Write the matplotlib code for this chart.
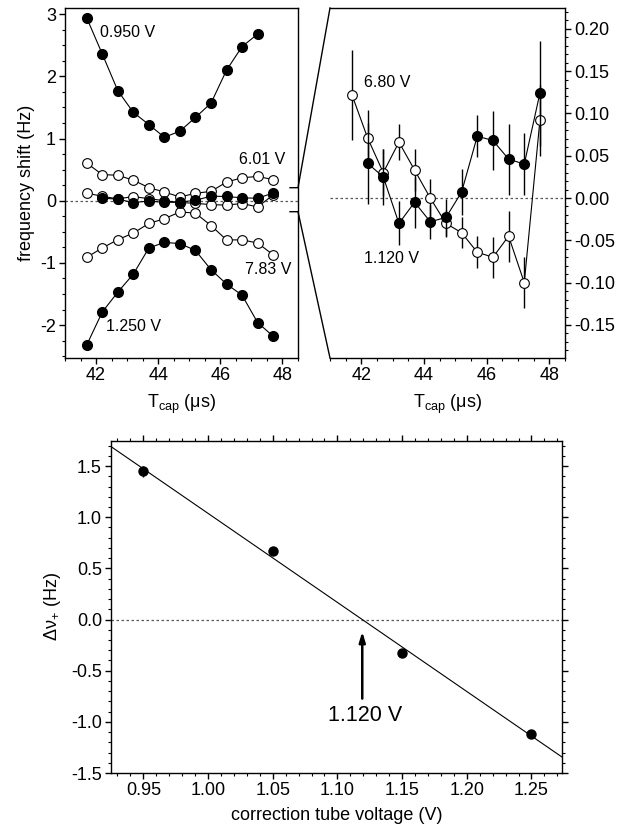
import numpy as np
import matplotlib
matplotlib.use("Agg")
import matplotlib.pyplot as plt
from matplotlib.ticker import MultipleLocator, AutoMinorLocator
from matplotlib.lines import Line2D

plt.rcParams['font.family'] = ['Liberation Sans', 'DejaVu Sans']
plt.rcParams['mathtext.fontset'] = 'custom'
plt.rcParams['mathtext.rm'] = 'Liberation Sans'
plt.rcParams['mathtext.it'] = 'Liberation Sans:italic'
plt.rcParams['axes.unicode_minus'] = False

# ---------------- data ----------------
t_cap = [41.7, 42.2, 42.7, 43.2, 43.7, 44.2, 44.7, 45.2, 45.7, 46.2, 46.7, 47.2, 47.7]

v0950 = [2.94, 2.36, 1.77, 1.42, 1.225, 1.02, 1.12, 1.34, 1.57, 2.10, 2.48, 2.68]          # t_cap[:12]
v601 = [0.605, 0.42, 0.41, 0.33, 0.21, 0.14, 0.06, 0.12, 0.15, 0.30, 0.37, 0.39, 0.34]
v783 = [-0.91, -0.76, -0.627, -0.52, -0.365, -0.29, -0.18, -0.20, -0.40, -0.63, -0.63, -0.68, -0.87]
v1250 = [-2.32, -1.79, -1.47, -1.18, -0.76, -0.67, -0.69, -0.80, -1.11, -1.34, -1.52, -1.96, -2.18]

v680 = [0.122, 0.071, 0.030, 0.066, 0.033, 0.000, -0.030, -0.041, -0.064, -0.070, -0.045, -0.100, 0.092]
v680_err = [0.053, 0.033, 0.028, 0.021, 0.025, 0.022, 0.016, 0.018, 0.019, 0.024, 0.030, 0.030, 0.042]
v1120 = [0.041, 0.025, -0.030, -0.005, -0.028, -0.023, 0.007, 0.073, 0.068, 0.046, 0.040, 0.124]   # t_cap[1:]
v1120_err = [0.048, 0.033, 0.026, 0.030, 0.020, 0.022, 0.027, 0.025, 0.035, 0.042, 0.037, 0.062]

volt = [0.95, 1.05, 1.15, 1.25]
dnu = [1.448, 0.669, -0.326, -1.122]
dnu_err = [0.05, 0.04, 0.04, 0.04]

W, H = 618, 836
fig = plt.figure(figsize=(W / 100, H / 100), dpi=100)

def px_ax(x0, y0, x1, y1):
    return fig.add_axes([x0 / W, 1 - y1 / H, (x1 - x0) / W, (y1 - y0) / H])

ax1 = px_ax(65, 8, 298, 358)
ax2 = px_ax(330, 8, 565, 358)
ax3 = px_ax(111, 441, 562, 773)

TFS = 13
AFS = 11.5
ms = 7
lw = 0.8

def style(ax):
    for s in ax.spines.values():
        s.set_linewidth(1.0)
    ax.tick_params(which='major', direction='out', length=4.5, width=1.0, labelsize=TFS, pad=2)
    ax.tick_params(which='minor', direction='out', length=2.5, width=0.8)

# ---------------- left panel ----------------
ax = ax1
ax.axhline(0, color='0.35', ls=(0, (2, 2)), lw=0.9, zorder=1)
ax.plot(t_cap[:12], v0950, '-o', color='black', mfc='black', mec='black', ms=ms, lw=lw, zorder=4)
ax.plot(t_cap, v601, '-o', color='black', mfc='white', mec='black', ms=ms, mew=0.8, lw=lw, zorder=3)
ax.plot(t_cap, v783, '-o', color='black', mfc='white', mec='black', ms=ms, mew=0.8, lw=lw, zorder=3)
ax.plot(t_cap, v1250, '-o', color='black', mfc='black', mec='black', ms=ms, lw=lw, zorder=4)
ax.plot(t_cap, v680, '-o', color='black', mfc='white', mec='black', ms=ms, mew=0.8, lw=lw, zorder=3)
ax.plot(t_cap[1:], v1120, '-o', color='black', mfc='black', mec='black', ms=ms, lw=lw, zorder=4)
ax.set_xlim(41.0, 48.5)
ax.set_ylim(-2.53, 3.10)
ax.xaxis.set_major_locator(MultipleLocator(2))
ax.xaxis.set_minor_locator(AutoMinorLocator(4))
ax.yaxis.set_major_locator(MultipleLocator(1))
ax.yaxis.set_minor_locator(AutoMinorLocator(4))
style(ax)
ax.tick_params(top=False, right=False, which='both')
ax.set_ylabel('frequency shift (Hz)', fontsize=13, labelpad=4)
ax.set_xlabel(r'T$_{\mathregular{cap}}$ (μs)', fontsize=13, labelpad=6)
ax.text(42.13, 2.71, '0.950 V', fontsize=AFS, va='center', ha='left')
ax.text(46.59, 0.66, '6.01 V', fontsize=AFS, va='center', ha='left')
ax.text(46.78, -1.11, '7.83 V', fontsize=AFS, va='center', ha='left')
ax.text(42.31, -2.03, '1.250 V', fontsize=AFS, va='center', ha='left')

# ---------------- right panel ----------------
ax = ax2
ax.axhline(0, color='0.35', ls=(0, (2, 2)), lw=0.9, zorder=1)
ax.errorbar(t_cap, v680, yerr=v680_err, fmt='-o', color='black', mfc='white', mec='black',
            ms=ms, mew=0.8, lw=lw, elinewidth=1.0, capsize=0, zorder=3)
ax.errorbar(t_cap[1:], v1120, yerr=v1120_err, fmt='-o', color='black', mfc='black', mec='black',
            ms=ms, lw=lw, elinewidth=1.0, capsize=0, zorder=4)
ax.set_xlim(41.0, 48.5)
ax.set_ylim(-0.189, 0.2245)
ax.xaxis.set_major_locator(MultipleLocator(2))
ax.xaxis.set_minor_locator(AutoMinorLocator(4))
ax.yaxis.set_major_locator(MultipleLocator(0.05))
ax.yaxis.set_minor_locator(AutoMinorLocator(5))
ax.yaxis.set_major_formatter(plt.FuncFormatter(lambda v, p: f'{v:.2f}' if abs(v) > 1e-9 else '0.00'))
ax.spines['left'].set_visible(False)
ax.yaxis.tick_right()
style(ax)
ax.tick_params(left=False, top=False, which='both')
ax.set_xlabel(r'T$_{\mathregular{cap}}$ (μs)', fontsize=13, labelpad=6)
ax.text(42.07, 0.136, '6.80 V', fontsize=AFS, va='center', ha='left')
ax.text(42.07, -0.072, '1.120 V', fontsize=AFS, va='center', ha='left')

# zoom connector lines (figure pixel coords)
def fl(xs, ys):
    fig.add_artist(Line2D([x / W for x in xs], [1 - y / H for y in ys], color='black', lw=1.0,
                          transform=fig.transFigure))
fl([290, 298, 330], [187.7, 187.7, 8])
fl([290, 298, 330], [211.7, 211.7, 358])

# ---------------- bottom panel ----------------
ax = ax3
ax.axhline(0, color='0.35', ls=(0, (2, 2)), lw=0.9, zorder=1)
coef = np.polyfit(volt, dnu, 1)
xl = np.array([0.90, 1.30])
ax.plot(xl, np.polyval(coef, xl), color='black', lw=0.8, zorder=2)
ax.errorbar(volt, dnu, yerr=dnu_err, fmt='o', color='black', ms=6.5, elinewidth=1.0, capsize=0, zorder=3)
ax.set_xlim(0.925, 1.2736)
ax.set_ylim(-1.5, 1.745)
ax.xaxis.set_major_locator(MultipleLocator(0.05))
ax.xaxis.set_minor_locator(AutoMinorLocator(5))
ax.yaxis.set_major_locator(MultipleLocator(0.5))
ax.yaxis.set_minor_locator(AutoMinorLocator(5))
ax.xaxis.set_major_formatter(plt.FuncFormatter(lambda v, p: f'{v:.2f}'))
ax.yaxis.set_major_formatter(plt.FuncFormatter(lambda v, p: f'{v:.1f}' if abs(v) > 1e-9 else '0.0'))
style(ax)
ax.tick_params(top=True, right=True, which='both')
ax.set_xlabel('correction tube voltage (V)', fontsize=13, labelpad=6)
ax.set_ylabel(r'Δν$_{\mathregular{+}}$ (Hz)', fontsize=13, labelpad=6)
x0 = -coef[1] / coef[0]
ax.annotate('', xy=(x0, -0.09), xytext=(x0, -0.80),
            arrowprops=dict(arrowstyle='-|>,head_length=0.6,head_width=0.18', color='black', lw=1.8))
ax.text(x0 + 0.002, -0.94, '1.120 V', fontsize=15.5, ha='center', va='center')

fig.savefig('out.png', dpi=100)
